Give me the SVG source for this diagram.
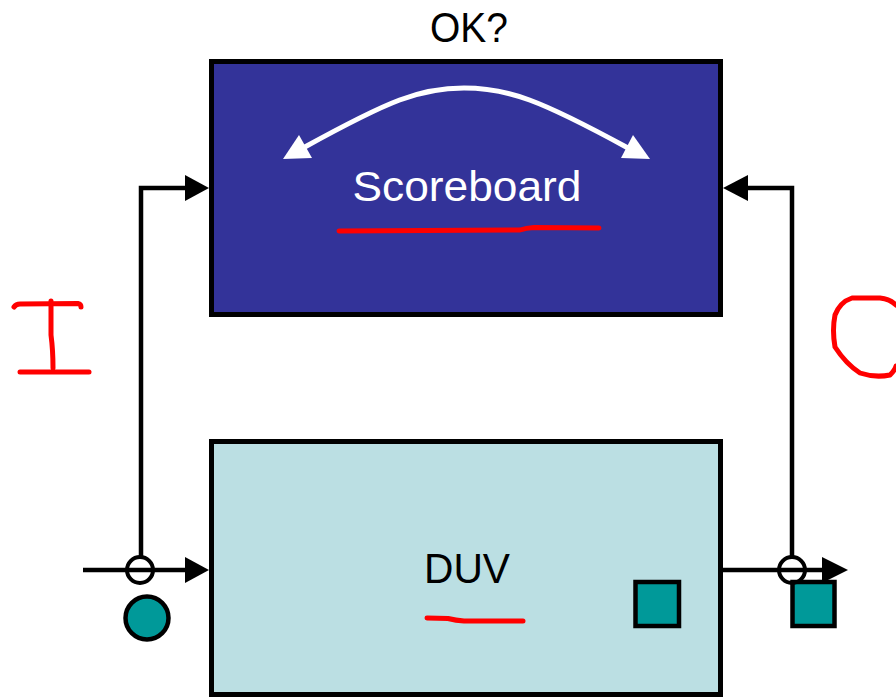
<svg xmlns="http://www.w3.org/2000/svg" width="896" height="697" viewBox="0 0 896 697">
<style>
.box{stroke:#000;stroke-width:5}
.wire{fill:none;stroke:#000;stroke-width:4.5}
.ink{fill:none;stroke:#f00;stroke-width:5;stroke-linecap:round;stroke-linejoin:round}
.lbl{font-family:"Liberation Sans",Arial,sans-serif;font-size:42px;text-anchor:middle}
.teal{fill:#009999;stroke:#000;stroke-width:4.5}
</style>
<rect width="896" height="697" fill="#fff"/>
<text class="lbl" x="469" y="42" fill="#000" textLength="78" lengthAdjust="spacingAndGlyphs">OK?</text>
<g id="scoreboard">
<rect class="box" x="211.5" y="61.5" width="509" height="253" fill="#333399"/>
<path d="M303,148 C390,100 420,88 464,88 C508,88 540,100 628,148" fill="none" stroke="#fff" stroke-width="5"/>
<polygon points="283,159 299,135 312,158" fill="#fff"/>
<polygon points="650,159 633,135 621,158" fill="#fff"/>
<text class="lbl" x="467" y="201" fill="#fff" textLength="229" lengthAdjust="spacingAndGlyphs">Scoreboard</text>
<path class="ink" d="M339,231 L520,230 Q526,228 534,227.5 L599,228"/>
</g>
<g id="duv">
<rect class="box" x="211.5" y="441.5" width="509" height="253" fill="#bbdfe3"/>
<text class="lbl" x="467" y="583" fill="#000" textLength="86" lengthAdjust="spacingAndGlyphs">DUV</text>
<path class="ink" d="M427,618 L448,618.5 Q456,620.5 464,621 L523,621"/>
<rect class="teal" x="635.5" y="582" width="43.5" height="44"/>
</g>
<g id="input-monitor">
<circle class="teal" cx="147" cy="618" r="21.5"/>
</g>
<g id="output-monitor">
<rect class="teal" x="792.5" y="582" width="42" height="44"/>
</g>
<g id="connectors">
<line class="wire" x1="83" y1="570" x2="188" y2="570"/>
<polygon points="209,570 185,557 185,583"/>
<path class="wire" d="M141,557 L141,188 L188,188"/>
<polygon points="209,188 185,175 185,201"/>
<circle cx="140" cy="570" r="13" fill="none" stroke="#000" stroke-width="4"/>
<line class="wire" x1="723" y1="570" x2="826" y2="570"/>
<polygon points="848,570 822,557 822,583"/>
<path class="wire" d="M792,557 L792,188 L745,188"/>
<polygon points="723,188 748,175 748,201"/>
<circle cx="792" cy="570" r="13" fill="none" stroke="#000" stroke-width="4"/>
</g>
<g id="annotations">
<path class="ink" d="M14,307 Q16,304 20,304 L78,303.5 Q81,304 81,307"/>
<path class="ink" d="M51,301 L51,335 Q53,350 53,368"/>
<path class="ink" d="M20,372 L89,372"/>
<path class="ink" d="M896,305 Q890,299 880,298 L852,298 Q840,302 835,315 Q832,330 835,347 Q846,364 860,373 Q875,378 890,375 Q895,370 896,366"/>
</g>
</svg>
